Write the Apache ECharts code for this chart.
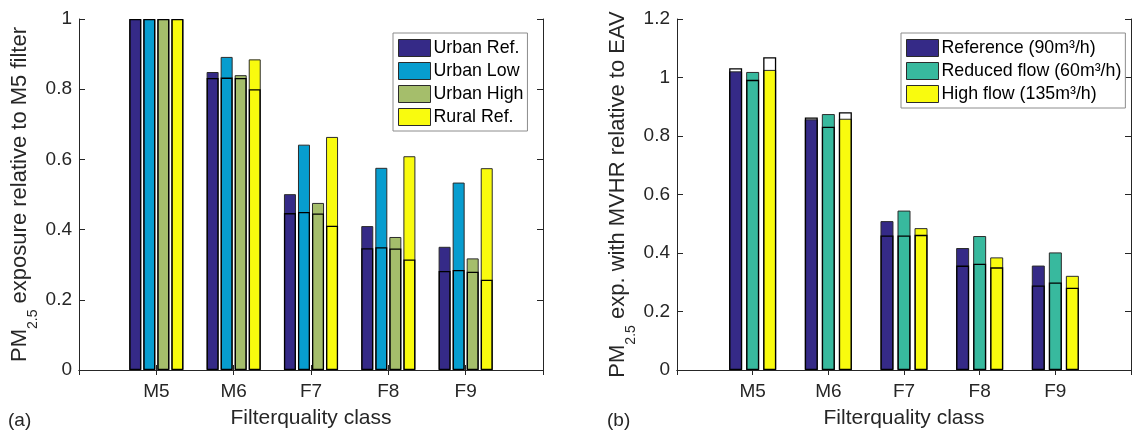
<!DOCTYPE html>
<html>
<head>
<meta charset="utf-8">
<script src="https://cdn.jsdelivr.net/npm/echarts@6/dist/echarts.min.js"></script>
<style>
  html, body { margin: 0; padding: 0; background: #fff; }
  #chart { width: 1134px; height: 434px; }
</style>
</head>
<body>
<div id="chart"></div>
<script>
// ---------- data ----------
const categories = ['M5', 'M6', 'F7', 'F8', 'F9'];

// Panel (a): filled bar top and overlaid outline level
const urbanRefFill   = [1, 0.849, 0.501, 0.410, 0.351];
const urbanRefLine   = [1, 0.832, 0.447, 0.347, 0.282];
const urbanLowFill   = [1, 0.892, 0.642, 0.576, 0.534];
const urbanLowLine   = [1, 0.833, 0.450, 0.350, 0.285];
const urbanHighFill  = [1, 0.840, 0.476, 0.379, 0.318];
const urbanHighLine  = [1, 0.832, 0.446, 0.346, 0.280];
const ruralRefFill   = [1, 0.885, 0.664, 0.609, 0.575];
const ruralRefLine   = [1, 0.800, 0.411, 0.315, 0.257];

// Panel (b)
const referenceFill  = [1.021, 0.857, 0.509, 0.417, 0.357];
const referenceLine  = [1.032, 0.863, 0.460, 0.357, 0.289];
const reducedFill    = [1.019, 0.875, 0.545, 0.458, 0.402];
const reducedLine    = [0.992, 0.832, 0.460, 0.363, 0.299];
const highFill       = [1.026, 0.859, 0.485, 0.385, 0.322];
const highLine       = [1.069, 0.881, 0.462, 0.351, 0.281];

const namesA = ['Urban Ref.', 'Urban Low', 'Urban High', 'Rural Ref.'];
const namesB = ['Reference (90m³/h)', 'Reduced flow (60m³/h)', 'High flow (135m³/h)'];
const yTicksA = { min: 0, max: 1, interval: 0.2 };
const yTicksB = { min: 0, max: 1.2, interval: 0.2 };

// ---------- helpers ----------
const FONT = 'Arial, "Liberation Sans", Helvetica, sans-serif';
const TXT = '#262626';
const axisCats = ['', ...categories, ''];
const pad = arr => [null, ...arr, null];

function xAxes(grid) {
  return [
    { gridIndex: grid, type: 'category', data: axisCats, boundaryGap: false, position: 'bottom',
      axisLine: { lineStyle: { color: TXT, width: 1 } },
      axisTick: { inside: true, length: 5, lineStyle: { color: TXT } },
      axisLabel: { interval: 0, color: TXT, fontSize: 19, fontFamily: FONT, margin: 12 },
      splitLine: { show: false },
      name: 'Filterquality class', nameLocation: 'middle', nameGap: 38,
      nameTextStyle: { color: TXT, fontSize: 21, fontFamily: FONT } },
    { gridIndex: grid, type: 'category', data: axisCats, boundaryGap: false, position: 'top',
      axisLine: { lineStyle: { color: TXT, width: 1 } },
      axisTick: { inside: true, length: 5, lineStyle: { color: TXT } },
      axisLabel: { show: false }, splitLine: { show: false } }
  ];
}
function yAxes(grid, ticks, nameRich) {
  return [
    { gridIndex: grid, type: 'value', position: 'left', min: ticks.min, max: ticks.max, interval: ticks.interval,
      axisLine: { show: true, lineStyle: { color: TXT, width: 1 } },
      axisTick: { show: true, inside: true, length: 6, lineStyle: { color: TXT } },
      axisLabel: { color: TXT, fontSize: 19, fontFamily: FONT, margin: 7 },
      splitLine: { show: false },
      name: nameRich, nameLocation: 'middle', nameRotate: 90, nameGap: 39,
      nameTextStyle: { color: TXT, fontFamily: FONT,
        rich: {
          n: { fontSize: 22, lineHeight: 22, verticalAlign: 'top', color: TXT, fontFamily: FONT },
          s: { fontSize: 14, padding: [17, 0, 0, 0], verticalAlign: 'top', color: TXT, fontFamily: FONT }
        } } },
    { gridIndex: grid, type: 'value', position: 'right', min: ticks.min, max: ticks.max, interval: ticks.interval,
      axisLine: { show: true, lineStyle: { color: TXT, width: 1 } },
      axisTick: { show: true, inside: true, length: 6, lineStyle: { color: TXT } },
      axisLabel: { show: false }, splitLine: { show: false } }
  ];
}
function fillSeries(name, data, color, xi, yi, w, gap) {
  return { name, type: 'bar', xAxisIndex: xi, yAxisIndex: yi, data: pad(data),
    barWidth: w, barGap: gap, z: 2, animation: false,
    itemStyle: { color, borderColor: '#2b2b2b', borderWidth: 1 } };
}
function lineSeries(name, data, xi, yi, w, gap) {
  return { name, type: 'bar', xAxisIndex: xi, yAxisIndex: yi, data: pad(data),
    barWidth: w, barGap: gap, z: 4, animation: false, silent: true,
    itemStyle: { color: 'rgba(0,0,0,0)', borderColor: '#000', borderWidth: 1.3 } };
}

const colA = ['#352a87', '#079dcf', '#a5be6b', '#f9fb0e'];
const colB = ['#352a87', '#38b99e', '#f9fb0e'];
const fillsA = [urbanRefFill, urbanLowFill, urbanHighFill, ruralRefFill];
const linesA = [urbanRefLine, urbanLowLine, urbanHighLine, ruralRefLine];
const fillsB = [referenceFill, reducedFill, highFill];
const linesB = [referenceLine, reducedLine, highLine];

const series = [];
fillsA.forEach((d, i) => series.push(fillSeries(namesA[i], d, colA[i], 0, 0, 12, '17%')));
linesA.forEach((d, i) => series.push(lineSeries('a_line_' + i, d, 1, 0, 12, '17%')));
fillsB.forEach((d, i) => series.push(fillSeries(namesB[i], d, colB[i], 2, 2, 13, '31%')));
linesB.forEach((d, i) => series.push(lineSeries('b_line_' + i, d, 3, 2, 13, '31%')));

const legendCommon = {
  orient: 'vertical', selectedMode: false, icon: 'rect',
  itemWidth: 32, itemHeight: 17, itemGap: 5,
  padding: [6, 4, 5, 5],
  backgroundColor: '#fff', borderColor: '#8c8c8c', borderWidth: 1, borderRadius: 0,
  textStyle: { color: '#000', fontSize: 17.8, fontFamily: FONT, lineHeight: 17, padding: [0, 0, 0, -2] },
  itemStyle: { borderColor: '#2b2b2b', borderWidth: 1 }
};

const option = {
  backgroundColor: '#fff',
  animation: false,
  grid: [
    { left: 79, top: 19, width: 464, height: 353, containLabel: false },
    { left: 677, top: 19, width: 464, height: 353, containLabel: false }
  ],
  xAxis: [...xAxes(0), ...xAxes(1)],
  yAxis: [
    ...yAxes(0, yTicksA, '{n|PM}{s|2.5}{n| exposure relative to M5 filter}'),
    ...yAxes(1, yTicksB, '{n|PM}{s|2.5}{n| exp. with MVHR relative to EAV}')
  ],
  legend: [
    Object.assign({}, legendCommon, { left: 393, top: 33, data: namesA }),
    Object.assign({}, legendCommon, { left: 901, top: 33, data: namesB })
  ],
  graphic: [
    { type: 'text', left: 8, top: 411, style: { text: '(a)', fontSize: 19, fontFamily: FONT, fill: TXT } },
    { type: 'text', left: 607, top: 411, style: { text: '(b)', fontSize: 19, fontFamily: FONT, fill: TXT } }
  ],
  series
};

const chart = echarts.init(document.getElementById('chart'), null, { renderer: 'canvas' });
chart.setOption(option);
</script>
</body>
</html>
